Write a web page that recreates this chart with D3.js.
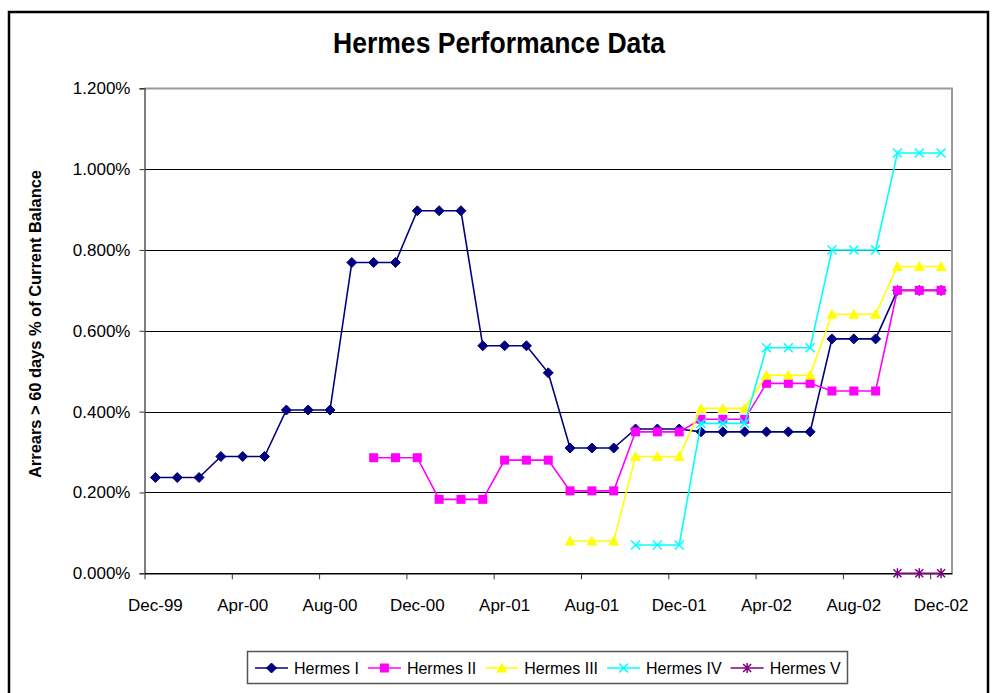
<!DOCTYPE html>
<html>
<head>
<meta charset="utf-8">
<script src="https://cdn.jsdelivr.net/npm/d3@7"></script>
<style>
  body { margin: 0; background: #fff; }
  svg { display: block; font-family: "Liberation Sans", Arial, sans-serif; }
</style>
</head>
<body>
<div id="chart"></div>
<script>
// one slot per month, Dec-99 .. Dec-02
const monthCount = 37;
const tickLabels = ["Dec-99", "Apr-00", "Aug-00", "Dec-00", "Apr-01", "Aug-01", "Dec-01", "Apr-02", "Aug-02", "Dec-02"];
const yTicks = [0, 0.2, 0.4, 0.6, 0.8, 1.0, 1.2];

const seriesNames = ["Hermes I", "Hermes II", "Hermes III", "Hermes IV", "Hermes V"];
const _ = null;
const hermes1 = [0.237, 0.237, 0.237, 0.289, 0.289, 0.289, 0.404, 0.404, 0.404, 0.769, 0.769, 0.769,
  0.897, 0.897, 0.897, 0.563, 0.563, 0.563, 0.496, 0.310, 0.310, 0.310, 0.357, 0.357, 0.357,
  0.350, 0.350, 0.350, 0.350, 0.350, 0.350, 0.580, 0.580, 0.580, 0.700, 0.700, 0.700];
const hermes2 = [_, _, _, _, _, _, _, _, _, _, 0.286, 0.286, 0.286, 0.183, 0.183, 0.183,
  0.280, 0.280, 0.280, 0.204, 0.204, 0.204, 0.350, 0.350, 0.350, 0.381, 0.381, 0.381,
  0.470, 0.470, 0.470, 0.451, 0.451, 0.451, 0.700, 0.700, 0.700];
const hermes3 = [_, _, _, _, _, _, _, _, _, _, _, _, _, _, _, _, _, _, _,
  0.080, 0.080, 0.080, 0.289, 0.289, 0.289, 0.408, 0.408, 0.408, 0.490, 0.490, 0.490,
  0.641, 0.641, 0.641, 0.759, 0.759, 0.759];
const hermes4 = [_, _, _, _, _, _, _, _, _, _, _, _, _, _, _, _, _, _, _, _, _, _,
  0.070, 0.070, 0.070, 0.371, 0.371, 0.371, 0.558, 0.558, 0.558, 0.800, 0.800, 0.800,
  1.040, 1.040, 1.040];
const hermes5 = [_, _, _, _, _, _, _, _, _, _, _, _, _, _, _, _, _, _, _, _, _, _, _, _, _, _, _, _, _, _, _, _, _, _,
  0.000, 0.000, 0.000];

const colors = ["#000080", "#FF00FF", "#FFFF00", "#00FFFF", "#800080"];
const markers = ["diamond", "square", "triangle", "cross", "star"];
const allSeries = [hermes1, hermes2, hermes3, hermes4, hermes5];

const W = 994, H = 693;
const plot = { left: 144.5, right: 952, top: 88.3, bottom: 573.3 };

const svg = d3.select("#chart").append("svg")
  .attr("width", W)
  .attr("height", H);

svg.append("rect")
  .attr("x", 9).attr("y", 12)
  .attr("width", 979).attr("height", 700)
  .attr("fill", "#fff")
  .attr("stroke", "#000")
  .attr("stroke-width", 2.5);

const x = d3.scaleLinear().domain([0, monthCount]).range([plot.left, plot.right]);
const y = d3.scaleLinear().domain([0, 1.2]).range([plot.bottom, plot.top]);

// gridlines
svg.selectAll(".grid")
  .data(yTicks.filter(d => d > 0 && d < 1.2))
  .enter().append("line")
  .attr("class", "grid")
  .attr("x1", plot.left).attr("x2", plot.right)
  .attr("y1", d => Math.round(y(d)) + 0.5).attr("y2", d => Math.round(y(d)) + 0.5)
  .attr("stroke", "#000")
  .attr("stroke-width", 1);

// plot area border (top / right)
svg.append("path")
  .attr("d", `M${plot.left},${Math.round(plot.top) + 0.5}H${plot.right}V${plot.bottom}`)
  .attr("fill", "none")
  .attr("stroke", "#9a9a9a")
  .attr("stroke-width", 2);

// y axis
const yAxis = d3.axisLeft(y)
  .tickValues(yTicks)
  .tickSize(5)
  .tickPadding(9)
  .tickFormat(d => d.toFixed(3) + "%");
const gy = svg.append("g")
  .attr("transform", `translate(${plot.left},0)`)
  .call(yAxis);
gy.select(".domain").attr("stroke", "#555").attr("stroke-width", 1.5);
gy.selectAll(".tick line").attr("stroke", "#333");
gy.selectAll(".tick text")
  .attr("font-size", "17px")
  .attr("fill", "#000")
  .attr("font-family", "'Liberation Sans', Arial, sans-serif");

// x axis: ticks on month boundaries, labels in the middle of the month
const tickIdx = d3.range(0, monthCount, 4);
const xAxis = d3.axisBottom(x)
  .tickValues(tickIdx)
  .tickSize(6)
  .tickSizeOuter(0)
  .tickFormat("");
const gx = svg.append("g")
  .attr("transform", `translate(0,${plot.bottom})`)
  .call(xAxis);
gx.select(".domain").attr("stroke", "#000").attr("stroke-width", 1.5);
gx.selectAll(".tick line").attr("stroke", "#333");

svg.selectAll(".xLabel")
  .data(tickLabels)
  .enter().append("text")
  .attr("class", "xLabel")
  .attr("x", (d, i) => x(tickIdx[i] + 0.5))
  .attr("y", plot.bottom + 38)
  .attr("text-anchor", "middle")
  .attr("font-size", "17px")
  .text(d => d);

// title
svg.append("text")
  .attr("x", 499)
  .attr("y", 53)
  .attr("text-anchor", "middle")
  .attr("font-size", "30px")
  .attr("font-weight", "bold")
  .attr("textLength", 332)
  .attr("lengthAdjust", "spacingAndGlyphs")
  .text("Hermes Performance Data");

// y axis title
svg.append("text")
  .attr("transform", "translate(41,324) rotate(-90)")
  .attr("text-anchor", "middle")
  .attr("font-size", "17px")
  .attr("font-weight", "bold")
  .attr("textLength", 308)
  .attr("lengthAdjust", "spacingAndGlyphs")
  .text("Arrears > 60 days % of Current Balance");

function drawMarker(g, type, color) {
  if (type === "diamond") {
    g.append("path").attr("d", "M0,-5L5,0L0,5L-5,0Z").attr("fill", color).attr("stroke", color);
  } else if (type === "square") {
    g.append("rect").attr("x", -4.5).attr("y", -4.5).attr("width", 9).attr("height", 9).attr("fill", color);
  } else if (type === "triangle") {
    g.append("path").attr("d", "M0,-5.5L5.5,4.5L-5.5,4.5Z").attr("fill", color);
  } else if (type === "cross") {
    g.append("path").attr("d", "M-4.5,-4.5L4.5,4.5M-4.5,4.5L4.5,-4.5")
      .attr("stroke", color).attr("stroke-width", 1.5);
  } else {
    g.append("path").attr("d", "M-4,-4L4,4M-4,4L4,-4M0,-5V5")
      .attr("stroke", color).attr("stroke-width", 1.5);
  }
}

const line = d3.line()
  .defined(d => d != null)
  .x((d, i) => x(i + 0.5))
  .y(d => y(d));

allSeries.forEach((vals, s) => {
  svg.append("path")
    .datum(vals)
    .attr("fill", "none")
    .attr("stroke", colors[s])
    .attr("stroke-width", 1.6)
    .attr("d", line);

  vals.forEach((v, i) => {
    if (v == null) return;
    const g = svg.append("g").attr("transform", `translate(${x(i + 0.5)},${y(v)})`);
    drawMarker(g, markers[s], colors[s]);
  });
});

// legend
const legend = svg.append("g");
legend.append("rect")
  .attr("x", 247.5).attr("y", 651.5)
  .attr("width", 600).attr("height", 32)
  .attr("fill", "#fff")
  .attr("stroke", "#555")
  .attr("stroke-width", 1.5);

let lx = 255;
const ly = 668;
seriesNames.forEach((name, s) => {
  legend.append("line")
    .attr("x1", lx).attr("x2", lx + 33)
    .attr("y1", ly).attr("y2", ly)
    .attr("stroke", colors[s])
    .attr("stroke-width", 1.6);
  drawMarker(legend.append("g").attr("transform", `translate(${lx + 16.5},${ly})`), markers[s], colors[s]);
  const t = legend.append("text")
    .attr("x", lx + 39)
    .attr("y", ly + 6)
    .attr("font-size", "16px")
    .text(name);
  lx += 39 + t.node().getComputedTextLength() + 9;
});
</script>
</body>
</html>
